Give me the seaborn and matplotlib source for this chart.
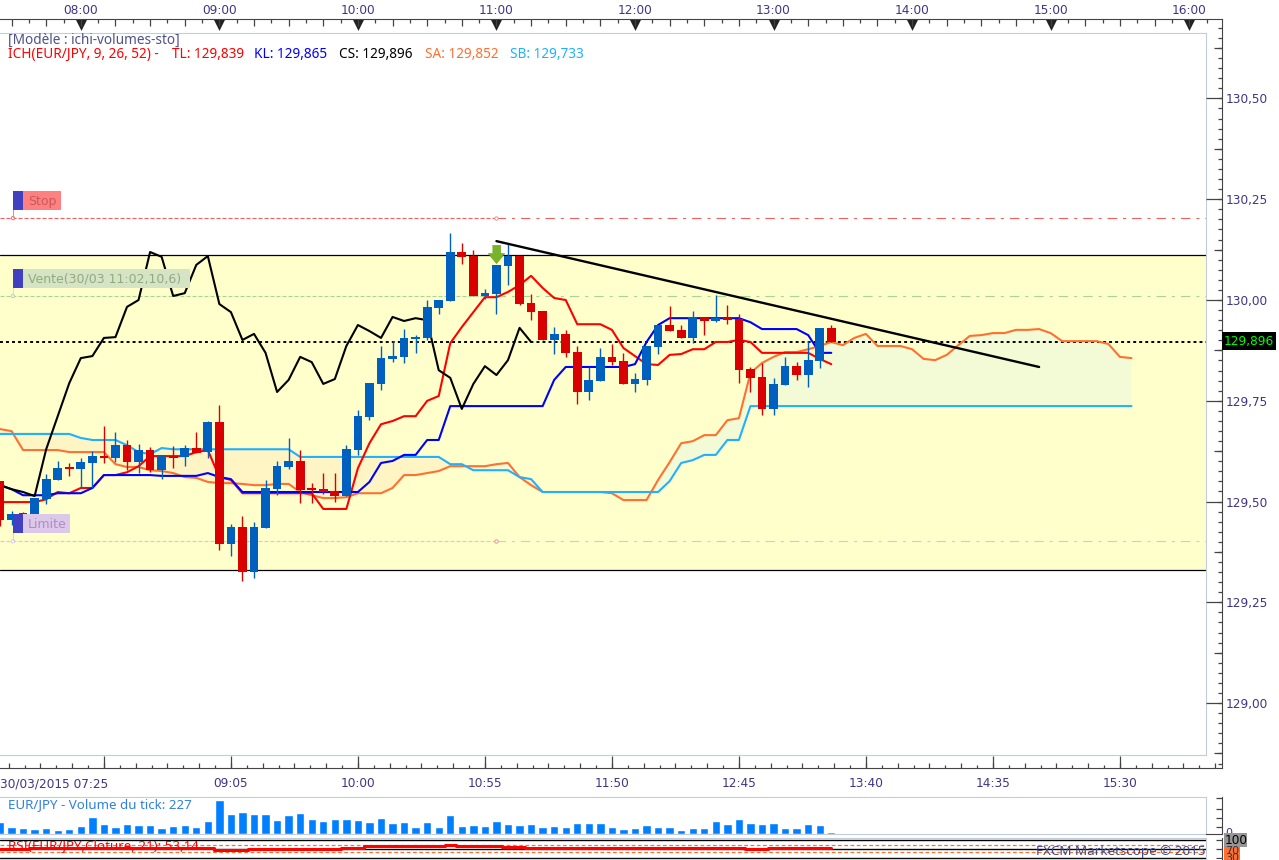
import matplotlib
matplotlib.use("Agg")
import matplotlib.pyplot as plt
from matplotlib.patches import Rectangle
import numpy as np
import seaborn as sns

W, H = 1279, 860

# 5 minute candles from 07:25
opens = [129.551, 129.454, 129.472, 129.469, 129.506, 129.554, 129.583, 129.581, 129.596, 129.613,
         129.608, 129.640, 129.598, 129.628, 129.578, 129.613, 129.611, 129.633, 129.623, 129.697,
         129.395, 129.437, 129.325, 129.435, 129.531, 129.586, 129.601, 129.531, 129.531, 129.526,
         129.514, 129.628, 129.710, 129.792, 129.854, 129.859, 129.903, 129.906, 129.980, 129.998,
         130.119, 130.109, 130.010, 130.015, 130.084, 130.109, 129.993, 129.973, 129.901, 129.916,
         129.871, 129.772, 129.799, 129.859, 129.849, 129.792, 129.802, 129.883, 129.938, 129.926,
         129.906, 129.958, 129.948, 129.955, 129.953, 129.829, 129.809, 129.730, 129.789, 129.836,
         129.814, 129.849, 129.931]
closes = [129.454, 129.469, 129.464, 129.509, 129.556, 129.583, 129.581, 129.598, 129.613, 129.608,
          129.640, 129.598, 129.628, 129.578, 129.616, 129.608, 129.633, 129.621, 129.697, 129.395,
          129.437, 129.325, 129.437, 129.534, 129.588, 129.601, 129.529, 129.529, 129.524, 129.514,
          129.630, 129.712, 129.794, 129.856, 129.861, 129.906, 129.908, 129.983, 130.000, 130.119,
          130.107, 130.010, 130.017, 130.087, 130.109, 129.990, 129.970, 129.901, 129.916, 129.869,
          129.772, 129.802, 129.859, 129.846, 129.792, 129.804, 129.886, 129.938, 129.923, 129.906,
          129.958, 129.948, 129.955, 129.950, 129.826, 129.807, 129.730, 129.792, 129.836, 129.814,
          129.851, 129.931, 129.896]
highs = [129.551, 129.477, 129.474, 129.509, 129.568, 129.601, 129.596, 129.608, 129.626, 129.688,
         129.673, 129.653, 129.643, 129.635, 129.616, 129.638, 129.640, 129.673, 129.700, 129.740,
         129.444, 129.464, 129.449, 129.554, 129.601, 129.658, 129.628, 129.546, 129.571, 129.571,
         129.640, 129.727, 129.794, 129.886, 129.898, 129.928, 129.913, 130.000, 130.000, 130.166,
         130.141, 130.124, 130.027, 130.087, 130.139, 130.109, 130.015, 129.973, 129.933, 129.926,
         129.886, 129.834, 129.881, 129.891, 129.869, 129.819, 129.886, 129.938, 129.985, 129.938,
         129.973, 129.958, 130.012, 129.988, 129.965, 129.834, 129.844, 129.807, 129.859, 129.846,
         129.898, 129.931, 129.938]
lows = [129.440, 129.442, 129.454, 129.469, 129.494, 129.554, 129.564, 129.534, 129.534, 129.596,
        129.598, 129.578, 129.571, 129.573, 129.556, 129.583, 129.588, 129.621, 129.608, 129.380,
        129.365, 129.303, 129.311, 129.435, 129.516, 129.581, 129.497, 129.497, 129.519, 129.499,
        129.514, 129.616, 129.702, 129.777, 129.846, 129.844, 129.869, 129.901, 129.965, 129.998,
        130.089, 130.010, 130.002, 129.965, 130.037, 129.988, 129.950, 129.901, 129.866, 129.859,
        129.742, 129.752, 129.799, 129.839, 129.792, 129.772, 129.789, 129.866, 129.923, 129.906,
        129.893, 129.913, 129.945, 129.940, 129.794, 129.772, 129.715, 129.715, 129.789, 129.802,
        129.784, 129.831, 129.896]

# ichimoku lines
tenkan = [129.499, 129.499, 129.499, 129.499, 129.506, 129.524, 129.521, 129.534, 129.534, 129.566,
          129.566, 129.573, 129.588, 129.613, 129.613, 129.613, 129.613, 129.623, 129.628, 129.561,
          129.554, 129.521, 129.521, 129.521, 129.521, 129.521, 129.521, 129.521, 129.482, 129.482,
          129.482, 129.583, 129.645, 129.692, 129.700, 129.712, 129.712, 129.750, 129.762, 129.893,
          129.933, 129.970, 130.007, 130.007, 130.020, 130.037, 130.060, 130.030, 130.005, 130.000,
          129.940, 129.940, 129.940, 129.926, 129.881, 129.861, 129.841, 129.839, 129.864, 129.866,
          129.878, 129.878, 129.896, 129.896, 129.901, 129.896, 129.869, 129.869, 129.869, 129.869,
          129.869, 129.854, 129.841]
kijun = [129.541, 129.531, 129.516, 129.516, 129.516, 129.521, 129.521, 129.521, 129.534, 129.566,
         129.566, 129.566, 129.566, 129.566, 129.564, 129.564, 129.564, 129.564, 129.571, 129.561,
         129.556, 129.524, 129.524, 129.524, 129.524, 129.524, 129.524, 129.524, 129.524, 129.524,
         129.524, 129.524, 129.549, 129.596, 129.601, 129.616, 129.616, 129.653, 129.653, 129.737,
         129.737, 129.737, 129.737, 129.737, 129.737, 129.737, 129.737, 129.737, 129.802, 129.834,
         129.834, 129.834, 129.834, 129.834, 129.834, 129.841, 129.896, 129.938, 129.955, 129.955,
         129.955, 129.955, 129.955, 129.955, 129.955, 129.945, 129.928, 129.928, 129.928, 129.928,
         129.913, 129.869, 129.869]
chikou = [129.541, 129.531, 129.524, 129.514, 129.630, 129.712, 129.794, 129.856, 129.861, 129.906,
          129.908, 129.983, 130.000, 130.119, 130.107, 130.010, 130.017, 130.087, 130.109, 129.990,
          129.970, 129.901, 129.916, 129.869, 129.772, 129.802, 129.859, 129.846, 129.792, 129.804,
          129.886, 129.938, 129.923, 129.906, 129.958, 129.948, 129.955, 129.950, 129.826, 129.807,
          129.730, 129.792, 129.836, 129.814, 129.851, 129.931, 129.896]
span_a = [129.680, 129.675, 129.628, 129.628, 129.628, 129.628, 129.623, 129.623, 129.623, 129.623,
          129.593, 129.586, 129.586, 129.578, 129.576, 129.571, 129.561, 129.559, 129.549, 129.546,
          129.546, 129.544, 129.541, 129.541, 129.544, 129.544, 129.524, 129.516, 129.509, 129.509,
          129.511, 129.521, 129.521, 129.521, 129.534, 129.566, 129.566, 129.571, 129.576, 129.588,
          129.588, 129.588, 129.588, 129.593, 129.596, 129.561, 129.541, 129.524, 129.524, 129.524,
          129.524, 129.524, 129.524, 129.521, 129.504, 129.504, 129.504, 129.554, 129.598, 129.645,
          129.650, 129.665, 129.665, 129.702, 129.707, 129.819, 129.844, 129.859, 129.871, 129.871,
          129.878, 129.886, 129.896, 129.888, 129.906, 129.916, 129.886, 129.886, 129.886, 129.878,
          129.854, 129.851, 129.864, 129.888, 129.911, 129.913, 129.918, 129.918, 129.926, 129.926,
          129.928, 129.918, 129.898, 129.898, 129.898, 129.898, 129.891, 129.859, 129.856]
span_b = [129.668, 129.668, 129.668, 129.668, 129.668, 129.668, 129.668, 129.658, 129.653, 129.653,
          129.653, 129.640, 129.623, 129.618, 129.633, 129.630, 129.630, 129.630, 129.630, 129.630,
          129.630, 129.630, 129.630, 129.630, 129.630, 129.630, 129.611, 129.611, 129.611, 129.611,
          129.611, 129.611, 129.611, 129.611, 129.611, 129.611, 129.611, 129.611, 129.611, 129.593,
          129.593, 129.578, 129.578, 129.578, 129.578, 129.561, 129.556, 129.524, 129.524, 129.524,
          129.524, 129.524, 129.524, 129.524, 129.524, 129.524, 129.524, 129.524, 129.551, 129.596,
          129.603, 129.616, 129.616, 129.653, 129.653, 129.737, 129.737, 129.737, 129.737, 129.737,
          129.737, 129.737, 129.737, 129.737, 129.737, 129.737, 129.737, 129.737, 129.737, 129.737,
          129.737, 129.737, 129.737, 129.737, 129.737, 129.737, 129.737, 129.737, 129.737, 129.737,
          129.737, 129.737, 129.737, 129.737, 129.737, 129.737, 129.737, 129.737, 129.737]

volume = [72, 42, 36, 30, 36, 24, 30, 48, 102, 60, 42, 60, 54, 54, 36, 48, 54, 42, 78, 204,
          120, 132, 120, 120, 84, 114, 126, 90, 78, 90, 90, 84, 72, 96, 66, 72, 42, 72, 42, 114,
          48, 54, 48, 78, 60, 54, 60, 42, 48, 42, 66, 66, 66, 42, 30, 36, 54, 42, 42, 24,
          36, 36, 78, 60, 90, 66, 60, 66, 36, 36, 60, 54, 12]
rsi = [49, 49, 49, 56, 56, 56, 56, 56, 56, 56, 56, 56, 56, 56, 56, 56, 56, 56, 56, 43,
       43, 43, 49, 49, 50, 50, 50, 50, 50, 50, 55, 55, 63, 63, 63, 66, 66, 66, 66, 72,
       66, 66, 66, 66, 61, 61, 54, 54, 54, 52, 52, 52, 52, 52, 52, 52, 54, 54, 54, 54,
       54, 54, 54, 52, 52, 46, 46, 52, 52, 52, 52, 54, 54]

# levels and labels
band_top, band_bottom = 130.112, 129.330
stop_level, entry_level, limit_level, last_price = 130.203, 130.010, 129.402, 129.896
order_bar = 43
trend_x = [43, 90]
trend_y = [130.146, 129.834]
price_ticks = [129.00, 129.25, 129.50, 129.75, 130.00, 130.25, 130.50]
price_labels = ["129,00", "129,25", "129,50", "129,75", "130,00", "130,25", "130,50"]
hour_bars = [7, 19, 31, 43, 55, 67, 79, 91, 103]
hour_labels = ["08:00", "09:00", "10:00", "11:00", "12:00", "13:00", "14:00", "15:00", "16:00"]
time_bars = [0, 20, 31, 42, 53, 64, 75, 86, 97]
time_labels = ["30/03/2015 07:25", "09:05", "10:00", "10:55", "11:50", "12:45", "13:40", "14:35", "15:30"]

sns.set_style("white")
plt.rcParams["font.family"] = ["DejaVu Sans"]

CANDLE_UP, CANDLE_DOWN = "#0060c0", "#d80000"
FRAME = "#c3ccda"
AXIS = "#444444"
LABEL = "#3f3585"
BAR_PX = 127 / 11


def rect(x0, y0, x1, y1):
    return [x0 / W, 1 - y1 / H, (x1 - x0) / W, (y1 - y0) / H]


def px_text(x, y, s, color, size=8.7, zorder=5, **kw):
    fig.text(x / W, 1 - y / H, s, color=color, fontsize=size, va="center", zorder=zorder, **kw)


def px_box(x0, y0, x1, y1, color):
    fig.add_artist(Rectangle((x0 / W, 1 - y1 / H), (x1 - x0) / W, (y1 - y0) / H, color=color,
                             lw=0, transform=fig.transFigure, zorder=4))


fig = plt.figure(figsize=(W / 100, H / 100), dpi=100, facecolor="white")

# main panel
ax = fig.add_axes(rect(0, 33, 1206, 755))
ax.set_xlim(0, 1206 / BAR_PX)
ax.set_ylim(128.872, 130.662)
ax.set_xticks([])
ax.set_yticks([])
for side in ["top", "right", "bottom"]:
    ax.spines[side].set_color(FRAME)
ax.spines["left"].set_visible(False)

ax.axhspan(band_bottom, band_top, color="#ffffcc", lw=0, zorder=0)
ax.axhline(band_top, color="black", lw=0.9, zorder=1)
ax.axhline(band_bottom, color="black", lw=0.9, zorder=1)

bars = np.arange(len(opens))
cloud_x = np.arange(len(span_a))
sa, sb = np.array(span_a), np.array(span_b)
ax.fill_between(cloud_x, sa, sb, where=sa >= sb, interpolate=True, color="#f2fbd5", lw=0, zorder=1)
ax.fill_between(cloud_x, sa, sb, where=sa <= sb, interpolate=True, color="#fff4c4", lw=0, zorder=1)

# order levels: short dashes up to the order bar, dash-dot after it
right_edge = 1206 / BAR_PX
for level, color in [(stop_level, "#f06060"), (entry_level, "#a8d494"), (limit_level, "#d4c4ec")]:
    ax.hlines(level, 0, order_bar, color=color, lw=0.8, ls=(0, (3.6, 1.8)), zorder=2)
    ax.hlines(level, order_bar, right_edge, color=color, lw=0.8, ls=(0, (8.5, 5.4, 2.7, 5.4)), zorder=2)
ax.axhline(last_price, color="black", lw=1.4, ls=(0, (1.5, 1.6)), zorder=2)

for values, color in [(span_a, "#ff7030"), (span_b, "#20b0ff"), (tenkan, "#ff0000"),
                      (kijun, "#0000ff"), (chikou, "black")]:
    sns.lineplot(x=np.arange(len(values)), y=values, ax=ax, color=color, linewidth=1.5,
                 estimator=None, sort=False, legend=False, zorder=3)

colors = [CANDLE_UP if c >= o else CANDLE_DOWN for o, c in zip(opens, closes)]
ax.vlines(bars, lows, highs, colors=colors, lw=1.0, zorder=4)
body_bottom = np.minimum(opens, closes)
body_height = np.maximum(np.abs(np.array(closes) - np.array(opens)), 0.004)
ax.bar(bars, body_height, bottom=body_bottom, width=0.75, color=colors, lw=0, zorder=5)

sns.lineplot(x=trend_x, y=trend_y, ax=ax, color="black", linewidth=1.7, estimator=None,
             legend=False, zorder=6)

# sell arrow and order anchors
arrow = [(-0.45, 1), (0.45, 1), (0.45, 0.1), (0.9, 0.1), (0, -1), (-0.9, 0.1), (-0.45, 0.1)]
ax.scatter([order_bar], [130.113], marker=arrow, s=170, color="#78b428", edgecolor="#5a9a18", lw=0.4, zorder=7)
ax.scatter([order_bar, order_bar], [stop_level, limit_level], s=6, facecolor="white",
           edgecolor="#e88080", lw=0.6, zorder=7)
ax.scatter([13 / BAR_PX] * 3, [stop_level, entry_level, limit_level], s=6, facecolor="white",
           edgecolor=["#f06060", "#a8d494", "#d4c4ec"], lw=0.6, zorder=7)
ax.set_xlabel("")
ax.set_ylabel("")

# order tags
for y0, y1, x1, fill, tcol, stem, lab in [
    (191, 210, 61, "#ff8080", "#c65a5a", 218, "Stop"),
    (269, 288, 190, "#d6e4c6", "#93a97f", 296, "Vente(30/03 11:02,10,6)"),
    (514, 533, 70, "#dcc8e8", "#ae8cc8", 541, "Limite"),
]:
    px_box(23, y0, x1, y1, fill)
    px_box(13, y0, 23, y1, "#4040c0")
    px_box(13, y1, 14, stem, fill)
    px_text(28, (y0 + y1) / 2 + 0.5, lab, tcol, size=9)

# price scale
ar = fig.add_axes(rect(1206, 19, 1221.5, 768))
ar.patch.set_alpha(0)
ar.set_xlim(0, 1)
ar.set_ylim(128.839, 130.697)
ar.set_xticks([])
for side in ["top", "left", "bottom"]:
    ar.spines[side].set_visible(False)
ar.spines["right"].set_color(AXIS)
ar.yaxis.tick_right()
ar.set_yticks(price_ticks, price_labels)
ar.tick_params(axis="y", length=0, pad=3, labelsize=8.7, labelcolor=LABEL)
minor = np.arange(128.85, 130.69, 0.025)
ar.hlines(minor, 0.77, 1, color=AXIS, lw=0.9)
ar.hlines(np.arange(128.875, 130.69, 0.25), 0.5, 1, color=AXIS, lw=0.9)
ar.hlines(price_ticks, 0, 1, color=AXIS, lw=0.9)

# top time strip
at = fig.add_axes(rect(0, 19, 1221.5, 33))
at.patch.set_alpha(0)
at.set_xlim(0, 1221.5 / BAR_PX)
at.set_ylim(14, 0)
at.set_yticks([])
for side in ["left", "right", "bottom"]:
    at.spines[side].set_visible(False)
at.spines["top"].set_color(AXIS)
at.xaxis.tick_top()
at.set_xticks(hour_bars, hour_labels)
at.tick_params(axis="x", length=0, pad=1.5, labelsize=8.7, labelcolor=LABEL)
at.vlines(np.arange(1, 106, 3), 0, 7, color=AXIS, lw=0.9)
at.vlines(np.arange(2.5, 106, 3), 0, 3.5, color=AXIS, lw=0.9)
at.scatter(hour_bars, [5] * len(hour_bars), marker="v", s=85, color="#222222", lw=0)

# bottom time strip
ab = fig.add_axes(rect(0, 755, 1221.5, 768))
ab.patch.set_alpha(0)
ab.set_xlim(0, 1221.5 / BAR_PX)
ab.set_ylim(0, 13)
ab.set_yticks([])
for side in ["left", "right", "top"]:
    ab.spines[side].set_visible(False)
ab.spines["bottom"].set_color(AXIS)
ab.set_xticks(time_bars, time_labels)
ab.tick_params(axis="x", length=0, pad=6.5, labelsize=8.7, labelcolor=LABEL)
ab.get_xticklabels()[0].set_ha("left")
step = 11 / 8
ab.vlines(np.arange(-2, 106, step * 8), 0, 12, color=AXIS, lw=0.9)
ab.vlines(np.arange(-2 + 2 * step, 106, 2 * step), 0, 5, color=AXIS, lw=0.9)
ab.vlines(np.arange(-2 + step, 106, 2 * step), 0, 3, color=AXIS, lw=0.9)

# volume panel
av = fig.add_axes(rect(0, 797, 1206, 833.5))
sns.barplot(x=bars, y=volume, ax=av, native_scale=True, color="#007fff", saturation=1,
            width=0.72, errorbar=None)
av.set_xlim(0, 1206 / BAR_PX)
av.set_ylim(0, 219)
av.set_xticks([])
av.set_yticks([])
av.set_xlabel("")
av.set_ylabel("")
for side in ["top", "right", "bottom"]:
    av.spines[side].set_color(FRAME)
av.spines["left"].set_visible(False)

avr = fig.add_axes(rect(1206, 797, 1221.5, 833.5))
avr.patch.set_alpha(0)
avr.set_xlim(0, 1)
avr.set_ylim(0, 36.5)
avr.set_xticks([])
avr.set_yticks([])
for side in ["top", "left"]:
    avr.spines[side].set_visible(False)
avr.spines["right"].set_color(AXIS)
avr.spines["bottom"].set_color(AXIS)
avr.hlines([7, 16, 25, 35.8], 0.65, 1, color=AXIS, lw=0.9)

# rsi panel
ai = fig.add_axes(rect(0, 838, 1206, 858.5))
ai.set_xlim(0, 1206 / BAR_PX)
ai.set_ylim(-5, 109)
ai.set_xticks([])
ai.set_yticks([])
for side in ["top", "right", "bottom"]:
    ai.spines[side].set_color(FRAME)
ai.spines["left"].set_visible(False)
ai.axhline(100, color="black", lw=1)
ai.axhline(50, color="black", lw=1)
ai.axhline(0, color="black", lw=1)
ai.axhline(70, color="#ff7030", lw=0.9, ls=(0, (3, 2)))
ai.axhline(30, color="#ff7030", lw=0.9, ls=(0, (3, 2)))
sns.lineplot(x=bars, y=rsi, ax=ai, color="#ff0000", linewidth=2.2, estimator=None, sort=False,
             legend=False, drawstyle="steps-mid", zorder=4)
ai.set_xlabel("")
ai.set_ylabel("")

air = fig.add_axes(rect(1206, 838, 1221.5, 858.5))
air.patch.set_alpha(0)
air.set_xlim(0, 1)
air.set_ylim(-5, 109)
air.set_xticks([])
air.set_yticks([])
for side in ["top", "left", "bottom"]:
    air.spines[side].set_visible(False)
air.spines["right"].set_color(AXIS)
air.hlines([100, 50, 0], 0.65, 1, color=AXIS, lw=0.9)

# header texts
hfont = "Noto Sans"
hsize = 9.8
px_text(8, 40, "[Modèle : ichi-volumes-sto]", "#50508a", size=hsize, family=hfont)
px_text(8, 54.5, "ICH(EUR/JPY, 9, 26, 52) -", "#ff0000", size=hsize, family=hfont)
px_text(172, 54.5, "TL: 129,839", "#ff0000", size=hsize, family=hfont)
px_text(254, 54.5, "KL: 129,865", "#0000ff", size=hsize, family=hfont)
px_text(339, 54.5, "CS: 129,896", "black", size=hsize, family=hfont)
px_text(425, 54.5, "SA: 129,852", "#ff7030", size=hsize, family=hfont)
px_text(510, 54.5, "SB: 129,733", "#20b0ff", size=hsize, family=hfont)

px_text(8, 805, "EUR/JPY - Volume du tick: 227", "#3080e0", size=9.6, family=hfont)
px_text(8, 846, "RSI(EUR/JPY,Cloture, 21): 53,14", "#ff0000", size=9.6, family=hfont)
px_text(1036, 852, "FXCM Marketscope © 2015", "#3f4a8a", size=9.7, family=hfont)

# last price flag and rsi flags
px_box(1222, 332, 1276, 350, "black")
px_text(1224, 341.5, "129,896", "#00ff00", size=8.7)
px_text(1225, 833, "0", LABEL, size=8, zorder=3)
px_box(1224, 847, 1240, 860, "#ff7030")
px_box(1224, 833, 1247, 847, "#969696")
px_text(1225, 840.5, "100", "black", size=8.7)
px_text(1225, 851, "70", "#333333", size=8)
px_text(1225, 858, "30", "#333333", size=8)

fig.savefig("out.png", dpi=100)
